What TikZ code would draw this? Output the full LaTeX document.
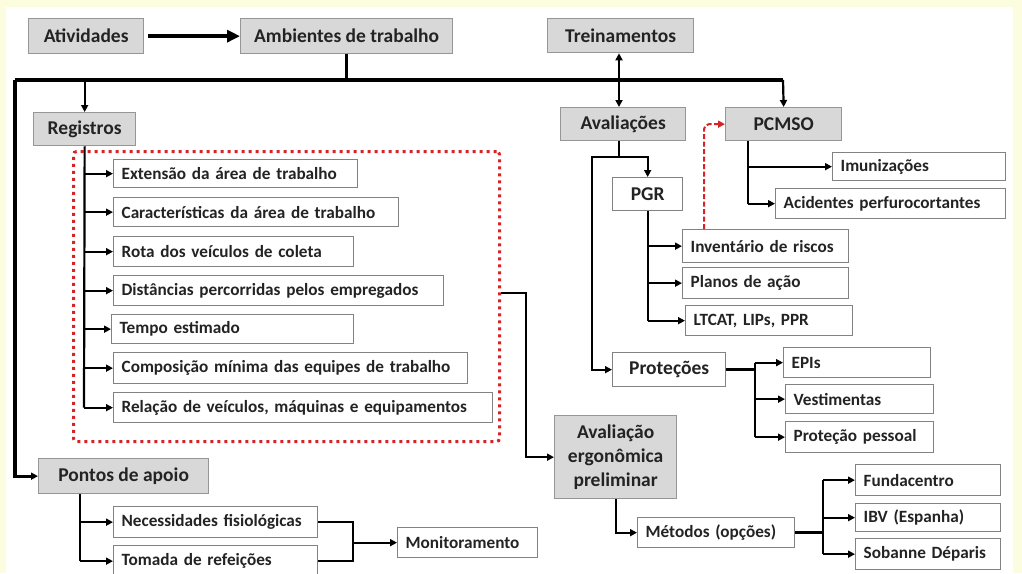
\documentclass[tikz,border=0pt]{standalone}
\usepackage{fontspec}
\setmainfont{Carlito}
\usetikzlibrary{arrows.meta,calc}
\definecolor{bgy}{RGB}{252,252,222}
\definecolor{gfill}{RGB}{216,216,216}
\definecolor{gline}{RGB}{150,150,150}
\definecolor{wline}{RGB}{130,130,130}
\definecolor{rdot}{RGB}{215,35,40}
\definecolor{txt}{RGB}{35,35,35}
\tikzset{
  box/.style={draw, line width=1.3pt, inner ysep=0pt, text=txt},
  gbox/.style={box, fill=gfill, draw=gline, inner xsep=4pt, font=\bfseries\fontsize{19.5}{21}\selectfont},
  wbox/.style={box, fill=white, draw=wline, inner xsep=8pt, font=\bfseries\fontsize{17.2}{19}\selectfont},
  wboxc/.style={box, fill=white, draw=wline, inner xsep=4pt, font=\bfseries\fontsize{19.5}{21}\selectfont},
  ln/.style={line width=2.2pt, black},
  thk/.style={line width=3.2pt, black},
  arr/.style={ln, -{Triangle[length=7pt,width=7pt]}},
  redbox/.style={draw=rdot, line width=3pt, dash pattern=on 3pt off 4pt, rounded corners=3pt},
  reddash/.style={draw=rdot, line width=2pt, dash pattern=on 5pt off 2.5pt, rounded corners=5pt, -{Triangle[length=7pt,width=7pt]}},
}
% centered box: style, name, x1, y1, x2, y2, text
\newcommand{\bxc}[7]{\node[#1, anchor=north west, align=center, minimum width={#5-#3}, minimum height={#6-#4}] (#2) at (#3,#4) {#7};}
% left aligned box
\newcommand{\bxl}[7]{\node[#1, anchor=north west, align=left, text width={#5-#3-16}, minimum height={#6-#4}] (#2) at (#3,#4) {#7};}
\begin{document}
\begin{tikzpicture}[x=1pt,y=-1pt]
\useasboundingbox (0,0) rectangle (1022,573);
\clip (0,0) rectangle (1022,573);
\fill[bgy] (0,0) rectangle (1022,573);
\fill[white] (6,7) rectangle (1013,580);

% header boxes
\bxc{gbox}{ativ}{28}{18}{143}{53}{Atividades}
\bxc{gbox}{amb}{240}{18}{452}{53}{Ambientes de trabalho}
\bxc{gbox}{trein}{547}{18}{693}{52}{Treinamentos}
\bxc{gbox}{regis}{33}{112}{135}{145}{Registros}
\bxc{gbox}{aval}{560}{107}{685}{140}{Avaliações}
\bxc{gbox}{pcmso}{725}{107}{841}{140}{PCMSO}
\bxc{gbox}{pontos}{38}{458}{208}{493}{Pontos de apoio}
\node[gbox, anchor=north west, align=center, minimum width=122, minimum height=83, font=\bfseries\fontsize{19.5}{24}\selectfont] (aerg) at (554,415) {Avaliação\\ergonômica\\preliminar};

% red dotted frame
\node[redbox, anchor=north west, minimum width=426, minimum height=290] (rbox) at (72,150) {};

% Registros items
\bxl{wbox}{ext}{113}{159}{357}{187}{Extensão da área de trabalho}
\bxl{wbox}{car}{113}{197}{398}{226}{Características da área de trabalho}
\bxl{wbox}{rota}{113}{236}{353}{266}{Rota dos veículos de coleta}
\bxl{wbox}{dist}{113}{275}{443}{305}{Distâncias percorridas pelos empregados}
\bxl{wbox}{tempo}{111}{314}{353}{343}{Tempo estimado}
\bxl{wbox}{comp}{113}{352}{467}{383}{Composição mínima das equipes de trabalho}
\bxl{wbox}{rel}{113}{392}{492}{422}{Relação de veículos, máquinas e equipamentos}

% Pontos de apoio items
\bxl{wbox}{nec}{113}{506}{317}{537}{Necessidades fisiológicas}
\bxl{wbox}{tom}{113}{545}{317}{576}{Tomada de refeições}
\bxl{wbox}{moni}{397}{527}{537}{557}{Monitoramento}

% Avaliacoes branch
\bxc{wboxc}{pgr}{612}{177}{682}{210}{PGR}
\bxl{wbox}{inv}{682}{229}{848}{262}{Inventário de riscos}
\bxl{wbox}{planos}{682}{267}{848}{298}{Planos de ação}
\bxl{wbox}{ltcat}{685}{305}{852}{335}{LTCAT, LIPs, PPR}
\bxc{wboxc}{prot}{612}{352}{725}{386}{Proteções}
\bxl{wbox}{epis}{783}{347}{930}{377}{EPIs}
\bxl{wbox}{vest}{785}{384}{933}{413}{Vestimentas}
\bxl{wbox}{ppes}{785}{421}{933}{452}{Proteção pessoal}

% PCMSO branch
\bxl{wbox}{imun}{832}{152}{1005}{180}{Imunizações}
\bxl{wbox}{acid}{775}{188}{1005}{218}{Acidentes perfurocortantes}

% Metodos
\bxl{wbox}{metod}{637}{517}{794}{547}{Métodos (opções)}
\bxl{wbox}{fund}{855}{464}{1000}{495}{Fundacentro}
\bxl{wbox}{ibv}{855}{503}{1000}{531}{IBV (Espanha)}
\bxl{wbox}{sob}{855}{538}{1000}{569}{Sobanne Déparis}

% ---- connectors ----
\draw[line width=4pt, -{Triangle[length=13pt,width=12pt]}, shorten <=4pt] (ativ) -- (amb);

\coordinate (bl) at (15,80);
\coordinate (br) at (783,80);
\coordinate (tj) at (619,80);
\draw[thk] (amb.south) -- (amb.south |- bl);
\draw[thk] (br) -- (bl);
\draw[thk, -{Triangle[length=7pt,width=7pt]}] (bl) |- (pontos.west);
\draw[arr] (regis.north |- bl) -- (regis.north);
\draw[arr] (tj) -- (tj |- trein.south);
\draw[arr] (tj) -- (tj |- aval.north);
\draw[arr] (br) -- (pcmso.north);

% Registros tree
\coordinate (rx) at (84,0);
\draw[ln] (regis.south) -- (rx |- rel.west);
\foreach \n in {ext,car,rota,dist,tempo,comp,rel}
  \draw[arr] (rx |- \n.west) -- (\n.west);

% Distancias -> Avaliacao ergonomica
\coordinate (dx) at (526,0);
\draw[arr] (rbox.east |- 0,293) -- (dx |- 0,293) |- (aerg.west);

% Avaliacoes tree
\coordinate (aj) at (619,157);
\draw[ln] (aval.south -| aj) -- (aj);
\draw[arr] (aj) -| (pgr.north);
\draw[arr] (aj) -- (592,157) |- (prot.west);

% PGR tree
\draw[ln] (pgr.south) -- (pgr.south |- ltcat.west);
\foreach \n in {inv,planos,ltcat}
  \draw[arr] (pgr.south |- \n.west) -- (\n.west);

% red dashed: inventario -> PCMSO
\draw[reddash] (704,229) |- (pcmso.west);

% PCMSO tree
\coordinate (pj) at (748,0);
\draw[ln] (pj |- pcmso.south) -- (pj |- acid.west);
\draw[arr] (pj |- imun.west) -- (imun.west);
\draw[arr] (pj |- acid.west) -- (acid.west);

% Protecoes tree
\coordinate (px) at (755,0);
\draw[thk] (prot.east) -- (px |- prot.east);
\draw[ln] (px |- epis.west) -- (px |- ppes.west);
\foreach \n in {epis,vest,ppes}
  \draw[arr] (px |- \n.west) -- (\n.west);

% Pontos de apoio tree
\coordinate (pa) at (80,0);
\draw[ln] (pa |- pontos.south) -- (pa |- tom.west);
\draw[arr] (pa |- nec.west) -- (nec.west);
\draw[arr] (pa |- tom.west) -- (tom.west);
\coordinate (mx) at (353,0);
\draw[ln] (nec.east) -| (mx |- moni.west) |- (tom.east);
\draw[arr] (mx |- moni.west) -- (moni.west);

% Avaliacao ergonomica -> Metodos
\draw[arr] (aerg.south) |- (metod.west);
\coordinate (mj) at (823,0);
\draw[thk] (metod.east) -- (mj |- metod.east);
\draw[ln] (mj |- fund.west) -- (mj |- sob.west);
\foreach \n in {fund,ibv,sob}
  \draw[arr] (mj |- \n.west) -- (\n.west);
\end{tikzpicture}
\end{document}
